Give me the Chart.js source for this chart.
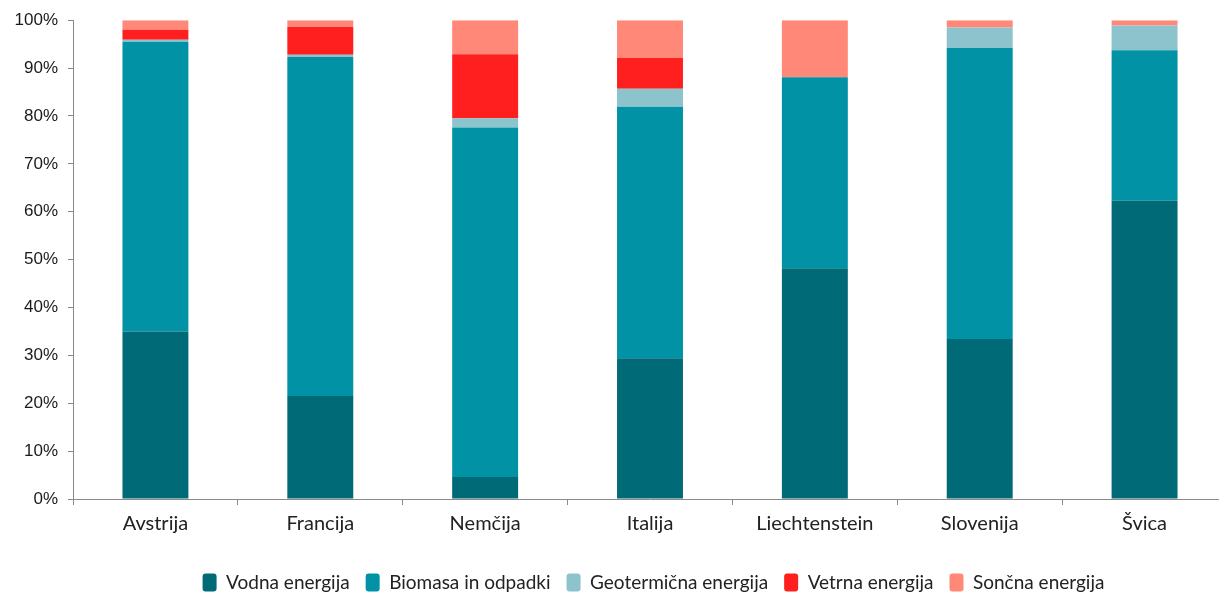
<!DOCTYPE html>
<html>
<head>
<meta charset="utf-8">
<script src="https://cdn.jsdelivr.net/npm/chart.js@4/dist/chart.umd.min.js"></script>
<style>
  html, body { margin: 0; padding: 0; background: #fff; overflow: hidden; }
  #wrap { width: 1228px; height: 594px; }
</style>
</head>
<body>
<div id="wrap"><canvas id="c" width="1228" height="594"></canvas></div>
<script>
const categories = ['Avstrija', 'Francija', 'Nemčija', 'Italija', 'Liechtenstein', 'Slovenija', 'Švica'];
const seriesNames = ['Vodna energija', 'Biomasa in odpadki', 'Geotermična energija', 'Vetrna energija', 'Sončna energija'];
const vodna      = [35.0, 21.5,  4.6, 29.4, 48.2, 33.4, 62.3];
const biomasa    = [60.5, 70.8, 73.0, 52.5, 39.9, 60.8, 31.4];
const geotermal  = [ 0.4,  0.5,  1.9,  3.8,  0.0,  4.3,  5.2];
const vetrna     = [ 2.1,  5.8, 13.4,  6.4,  0.0,  0.0,  0.0];
const soncna     = [ 2.0,  1.4,  7.1,  7.9, 11.9,  1.5,  1.1];
const yTicks = [0, 10, 20, 30, 40, 50, 60, 70, 80, 90, 100];

const colors = ['#006b76', '#0193a5', '#8cc3cc', '#ff1f1f', '#ff8878'];
const values = [vodna, biomasa, geotermal, vetrna, soncna];

const datasets = seriesNames.map((name, i) => ({
  label: name,
  data: values[i],
  backgroundColor: colors[i],
  borderWidth: 0,
  barPercentage: 0.4,
  categoryPercentage: 1.0,
  stack: 's'
}));

const legendShift = {
  id: 'legendShift',
  afterLayout(chart) {
    const lg = chart.legend;
    if (lg) { lg.left += 40; lg.right += 40; lg.top += 8; lg.bottom += 8; }
  }
};

new Chart(document.getElementById('c'), {
  type: 'bar',
  data: { labels: categories, datasets },
  options: {
    responsive: false,
    devicePixelRatio: 1,
    animation: false,
    layout: { padding: { top: 12, right: 1, left: 0, bottom: 0 } },
    plugins: {
      legend: {
        position: 'bottom',
        labels: {
          font: { family: 'Lato', size: 19 },
          color: '#222',
          boxWidth: 14,
          boxHeight: 18,
          useBorderRadius: true,
          borderRadius: 3,
          padding: 16
        }
      },
      tooltip: { enabled: false }
    },
    scales: {
      x: {
        stacked: true,
        offset: true,
        afterFit(scale) { scale.height = 50; },
        grid: { offset: true, drawOnChartArea: false, drawTicks: true, tickLength: 6, color: '#8a8a8a' },
        border: { display: true, color: '#8a8a8a', width: 1 },
        ticks: { font: { family: 'Lato', size: 20 }, color: '#222', padding: 7 }
      },
      y: {
        stacked: true,
        min: 0, max: 100,
        afterFit(scale) { scale.width = 73; },
        afterBuildTicks(scale) { scale.ticks = yTicks.map(v => ({ value: v })); },
        grid: { drawOnChartArea: false, drawTicks: true, tickLength: 5, color: '#8a8a8a' },
        border: { display: true, color: '#8a8a8a', width: 1 },
        ticks: {
          font: { family: 'Liberation Sans', size: 17 },
          color: '#1a1a1a',
          padding: 10,
          callback: v => v + '%'
        }
      }
    }
  },
  plugins: [legendShift]
});
</script>
</body>
</html>
